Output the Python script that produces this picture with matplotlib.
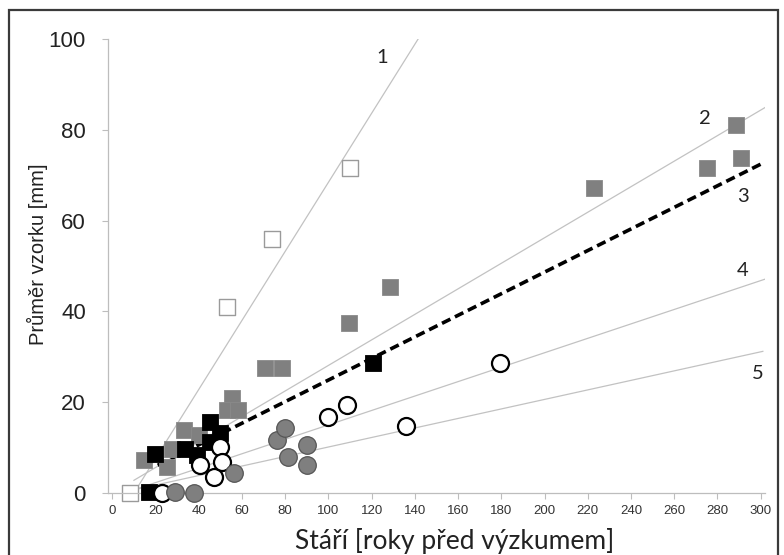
import matplotlib.pyplot as plt
from matplotlib.patches import Rectangle

# data
open_sq_x = [8, 53, 74, 110]
open_sq_y = [0, 41, 56, 71.5]

gray_sq_x = [14.5, 25.3, 27.6, 33.0, 40.0, 55.4, 53.1, 58.3, 70.8, 78.6, 109.3, 128.7, 222.7, 275.0, 288.4, 291.1]
gray_sq_y = [7.3, 5.7, 9.8, 13.9, 12.8, 20.9, 18.3, 18.3, 27.5, 27.5, 37.4, 45.4, 67.2, 71.6, 81.0, 73.8]

black_sq_x = [16.8, 19.9, 33.8, 39.2, 45.4, 45.4, 50.0, 120.8]
black_sq_y = [0.3, 8.7, 9.8, 8.4, 15.7, 11.3, 13.2, 28.6]

open_ci_x = [23.0, 40.7, 46.9, 50.0, 50.8, 100.0, 108.8, 136.1, 179.6]
open_ci_y = [0, 6.2, 3.6, 10.2, 6.9, 16.7, 19.4, 14.8, 28.6]

gray_ci_x = [29.2, 37.6, 56.2, 76.2, 80.1, 81.5, 90.1, 90.1]
gray_ci_y = [0.2, 0, 4.3, 11.7, 14.3, 7.9, 10.6, 6.2]

# trend lines (start, end)
line_x = [[10, 141.5], [10, 302], [10, 302], [10, 301]]
line_y = [[0, 100], [2.8, 84.9], [0.7, 47.1], [0.7, 31.2]]
dash_x = [21, 302]
dash_y = [6.1, 72.9]

line_names = ['1', '2', '3', '4', '5']
name_x = [125, 274, 292, 291.5, 298.5]
name_y = [96.0, 82.4, 65.4, 48.9, 26.4]

fig = plt.figure(figsize=(7.84, 5.55), dpi=100)
fig.patches.append(Rectangle((9 / 784, -0.05), 769 / 784, 1.05 - 10 / 555, transform=fig.transFigure,
                             fill=False, edgecolor='#3a3a3a', linewidth=1.6))
ax = fig.add_axes([108 / 784, 62 / 555, 657 / 784, 454 / 555])

for xs, ys in zip(line_x, line_y):
    ax.plot(xs, ys, color='#c2c2c2', lw=0.9, zorder=1)
ax.plot(dash_x, dash_y, color='black', lw=2.6, dashes=(2.6, 1.4), zorder=1.5)

ax.scatter(open_sq_x, open_sq_y, marker='s', s=125, facecolor='white', edgecolor='#9a9a9a',
           linewidths=1.0, zorder=2, clip_on=False)
ax.scatter(gray_sq_x, gray_sq_y, marker='s', s=125, facecolor='#808080', edgecolor='#8a8a8a',
           linewidths=0.6, zorder=3, clip_on=False)
ax.scatter(black_sq_x, black_sq_y, marker='s', s=125, facecolor='black', edgecolor='black',
           linewidths=0.6, zorder=4, clip_on=False)
ax.scatter(open_ci_x, open_ci_y, marker='o', s=150, facecolor='white', edgecolor='black',
           linewidths=1.6, zorder=5, clip_on=False)
ax.scatter(gray_ci_x, gray_ci_y, marker='o', s=160, facecolor='#7f7f7f', edgecolor='#555555',
           linewidths=0.9, zorder=6, clip_on=False)

for t, x, y in zip(line_names, name_x, name_y):
    ax.text(x, y, t, fontsize=14.5, family=['Lato', 'DejaVu Sans'], color='#222222',
            ha='center', va='center')

ax.set_xlim(-2, 302)
ax.set_ylim(0, 100)
ax.set_xticks(range(0, 301, 20))
ax.set_yticks(range(0, 101, 20))
for s in ['top', 'right']:
    ax.spines[s].set_visible(False)
for s in ['left', 'bottom']:
    ax.spines[s].set_color('#bdbdbd')
    ax.spines[s].set_linewidth(0.9)

ax.tick_params(axis='y', direction='out', length=4, width=0.8, color='#bdbdbd', pad=12,
               labelsize=16, labelcolor='#222222')
ax.tick_params(axis='x', direction='out', length=4.5, width=0.8, color='#bdbdbd', pad=4,
               labelsize=9.5, labelcolor='#333333')
for lab in ax.get_yticklabels() + ax.get_xticklabels():
    lab.set_family(['Liberation Sans', 'DejaVu Sans'])

ax.set_xlabel('Stáří [roky před výzkumem]', fontsize=19, family=['Lato', 'DejaVu Sans'], color='#222222')
ax.xaxis.set_label_coords(0.528, -0.078)
ax.set_ylabel('Průměr vzorku [mm]', fontsize=14.5, family=['Liberation Sans', 'DejaVu Sans'], color='#222222')
ax.yaxis.set_label_coords(-0.092, 0.526)

fig.savefig('out.png', dpi=100)
